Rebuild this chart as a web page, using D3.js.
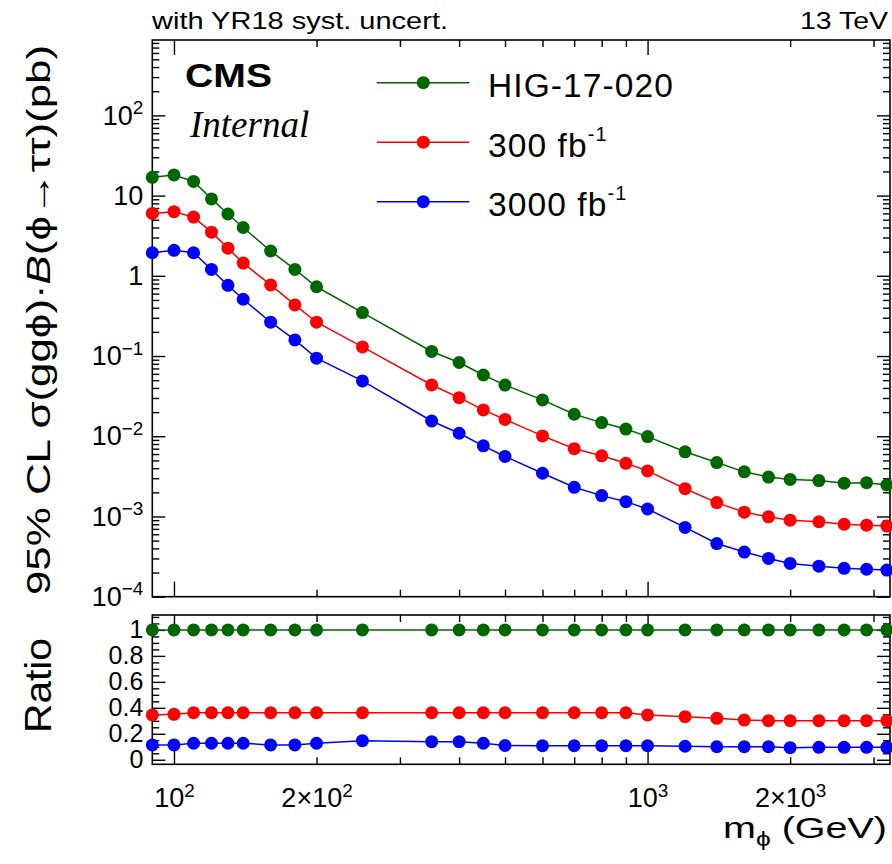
<!DOCTYPE html>
<html>
<head>
<meta charset="utf-8">
<script src="https://cdn.jsdelivr.net/npm/d3@7"></script>
<style>
  body { margin: 0; background: #fff; }
  svg { display: block; }
  text { font-family: "Liberation Sans", Arial, sans-serif; fill: #000; }
</style>
</head>
<body>
<svg id="chart"></svg>
<script>
// mass points (GeV)
const masses = [90, 100, 110, 120, 130, 140, 160, 180, 200, 250, 350, 400, 450, 500,
  600, 700, 800, 900, 1000, 1200, 1400, 1600, 1800, 2000, 2300, 2600, 2900, 3200];

// expected 95% CL limits (pb)
const hig17020 = [16.9, 18.1, 15.0, 9.1, 5.9, 4.0, 2.04, 1.2, 0.73, 0.348, 0.114, 0.083, 0.058, 0.0434,
  0.0284, 0.0188, 0.0148, 0.0123, 0.0099, 0.0064, 0.0047, 0.0036, 0.0031, 0.0029, 0.0028, 0.0026, 0.00264, 0.00247];
const lumi300 = [6.0, 6.3, 5.4, 3.5, 2.21, 1.44, 0.77, 0.434, 0.264, 0.13, 0.0436, 0.0303, 0.0213, 0.0162,
  0.0101, 0.0070, 0.0057, 0.0046, 0.0037, 0.00222, 0.00149, 0.00113, 0.00099, 0.0009, 0.00086, 0.0008, 0.00078, 0.00076];
const lumi3000 = [1.94, 2.08, 1.94, 1.2, 0.76, 0.51, 0.264, 0.159, 0.094, 0.049, 0.0155, 0.0109, 0.0076, 0.0056,
  0.00346, 0.00231, 0.00182, 0.00153, 0.00124, 0.00073, 0.00046, 0.00036, 0.0003, 0.00026, 0.00024, 0.000226, 0.00022, 0.000215];

// ratio to HIG-17-020
const ratioRef = [1, 1, 1, 1, 1, 1, 1, 1, 1, 1, 1, 1, 1, 1, 1, 1, 1, 1, 1, 1, 1, 1, 1, 1, 1, 1, 1, 1];
const ratio300 = [0.345, 0.35, 0.362, 0.362, 0.362, 0.362, 0.362, 0.362, 0.362, 0.362, 0.362, 0.362, 0.362, 0.362,
  0.362, 0.362, 0.362, 0.362, 0.345, 0.332, 0.319, 0.306, 0.301, 0.301, 0.301, 0.301, 0.301, 0.301];
const ratio3000 = [0.114, 0.114, 0.127, 0.127, 0.127, 0.127, 0.114, 0.114, 0.127, 0.147, 0.139, 0.139, 0.127, 0.11,
  0.108, 0.108, 0.108, 0.108, 0.108, 0.104, 0.1, 0.1, 0.1, 0.093, 0.096, 0.096, 0.096, 0.096];

const seriesNames = ['HIG-17-020', '300 fb', '3000 fb'];
const seriesSup = ['', '-1', '-1'];
const colors = ['#006600', '#ff0000', '#0000ff'];

const xMajor = [100, 1000];
const xMinor = [200, 300, 400, 500, 600, 700, 800, 900, 2000, 3000];
const xLabels = [[100, '10', '2'], [200, '2\u00d710', '2'], [1000, '10', '3'], [2000, '2\u00d710', '3']];
const yLabels = [[100, '10', '2'], [10, '10', ''], [1, '1', ''], [0.1, '10', '\u22121'],
  [0.01, '10', '\u22122'], [0.001, '10', '\u22123'], [0.0001, '10', '\u22124']];
const ratioMajor = [0, 0.2, 0.4, 0.6, 0.8, 1];
const ratioLabels = ['0', '0.2', '0.4', '0.6', '0.8', '1'];

const W = 892, H = 864;
const left = 152.3, right = 890;
const upTop = 40, upBottom = 596.7;
const loTop = 615, loBottom = 764.3;

const svg = d3.select('#chart').attr('width', W).attr('height', H);

const x = d3.scaleLog().domain([90, 3250]).range([left, right]);
const y = d3.scaleLog().domain([1e-4, 870]).range([upBottom, upTop]);
const yr = d3.scaleLinear().domain([-0.035, 1.115]).range([loBottom, loTop]);

// minor ticks for log y
const yMajor = yLabels.map((d) => d[0]);
const yMinor = [];
for (let e = -4; e <= 2; e++) {
  for (let k = 2; k <= 9; k++) {
    const v = k * Math.pow(10, e);
    if (v < 870) yMinor.push(v);
  }
}
const ratioMinor = d3.range(1, 23).map((i) => +(i * 0.05).toFixed(2))
  .filter((v) => ratioMajor.indexOf(v) < 0);

function tickGroup(axis, tx, ty) {
  const g = svg.append('g').attr('transform', 'translate(' + tx + ',' + ty + ')').call(axis);
  g.select('.domain').remove();
  g.selectAll('line').attr('stroke', '#000').attr('stroke-width', 1.4);
  return g;
}

// frames
[[upTop, upBottom], [loTop, loBottom]].forEach(([t, b]) => {
  svg.append('rect')
    .attr('x', left).attr('y', t)
    .attr('width', right - left).attr('height', b - t)
    .attr('fill', 'none').attr('stroke', '#000').attr('stroke-width', 1.6);
});

// x ticks, both panels, top and bottom
[[upTop, upBottom], [loTop, loBottom]].forEach(([t, b]) => {
  tickGroup(d3.axisBottom(x).tickValues(xMajor).tickSize(-15).tickFormat(''), 0, b);
  tickGroup(d3.axisBottom(x).tickValues(xMinor).tickSize(-7).tickFormat(''), 0, b);
  tickGroup(d3.axisTop(x).tickValues(xMajor).tickSize(-15).tickFormat(''), 0, t);
  tickGroup(d3.axisTop(x).tickValues(xMinor).tickSize(-7).tickFormat(''), 0, t);
});

// y ticks upper
tickGroup(d3.axisLeft(y).tickValues(yMajor).tickSize(-13).tickFormat(''), left, 0);
tickGroup(d3.axisLeft(y).tickValues(yMinor).tickSize(-7).tickFormat(''), left, 0);
tickGroup(d3.axisRight(y).tickValues(yMajor).tickSize(-13).tickFormat(''), right, 0);
tickGroup(d3.axisRight(y).tickValues(yMinor).tickSize(-7).tickFormat(''), right, 0);

// y ticks lower
tickGroup(d3.axisLeft(yr).tickValues(ratioMajor).tickSize(-13).tickFormat(''), left, 0);
tickGroup(d3.axisLeft(yr).tickValues(ratioMinor).tickSize(-7).tickFormat(''), left, 0);
tickGroup(d3.axisRight(yr).tickValues(ratioMajor).tickSize(-13).tickFormat(''), right, 0);
tickGroup(d3.axisRight(yr).tickValues(ratioMinor).tickSize(-7).tickFormat(''), right, 0);

function supText(sel, base, sup) {
  sel.text(null);
  sel.append('tspan').text(base);
  if (sup) sel.append('tspan').attr('dy', '-0.55em').attr('font-size', '0.7em').text(sup);
}

// y labels upper
const yl = svg.append('g').attr('transform', 'translate(' + left + ',0)')
  .call(d3.axisLeft(y).tickValues(yMajor).tickSize(0).tickPadding(9))
  .attr('font-size', 27).attr('font-family', null);
yl.select('.domain').remove();
yl.selectAll('.tick text').each(function (d) {
  const lab = yLabels.find((l) => l[0] === d);
  supText(d3.select(this), lab[1], lab[2]);
});

// ratio labels
const rl = svg.append('g').attr('transform', 'translate(' + left + ',0)')
  .call(d3.axisLeft(yr).tickValues(ratioMajor).tickSize(0).tickPadding(9)
    .tickFormat((d, i) => ratioLabels[i]))
  .attr('font-size', 25).attr('font-family', null);
rl.select('.domain').remove();

// x labels
const xl = svg.append('g').attr('transform', 'translate(0,' + loBottom + ')')
  .call(d3.axisBottom(x).tickValues(xLabels.map((l) => l[0])).tickSize(0).tickPadding(24))
  .attr('font-size', 27).attr('font-family', null);
xl.select('.domain').remove();
xl.selectAll('.tick text').each(function (d) {
  const lab = xLabels.find((l) => l[0] === d);
  supText(d3.select(this), lab[1], lab[2]);
});

// series, upper panel
const upperData = [hig17020, lumi300, lumi3000];
const ratioData = [ratioRef, ratio300, ratio3000];

upperData.forEach((vals, s) => {
  const line = d3.line().x((d, i) => x(masses[i])).y((d) => y(d));
  svg.append('path').datum(vals).attr('d', line)
    .attr('fill', 'none').attr('stroke', colors[s]).attr('stroke-width', 1.5);
});
upperData.forEach((vals, s) => {
  svg.append('g').selectAll('circle').data(vals).join('circle')
    .attr('cx', (d, i) => x(masses[i])).attr('cy', (d) => y(d))
    .attr('r', 6.5).attr('fill', colors[s]);
});

// series, ratio panel
ratioData.forEach((vals, s) => {
  const line = d3.line().x((d, i) => x(masses[i])).y((d) => yr(d));
  svg.append('path').datum(vals).attr('d', line)
    .attr('fill', 'none').attr('stroke', colors[s]).attr('stroke-width', 1.5);
  svg.append('g').selectAll('circle').data(vals).join('circle')
    .attr('cx', (d, i) => x(masses[i])).attr('cy', (d) => yr(d))
    .attr('r', 6.5).attr('fill', colors[s]);
});

// legend
const leg = svg.append('g');
seriesNames.forEach((name, s) => {
  const ly = 82.7 + s * 59.5;
  leg.append('line').attr('x1', 376.7).attr('x2', 469.3).attr('y1', ly).attr('y2', ly)
    .attr('stroke', colors[s]).attr('stroke-width', 1.5);
  leg.append('circle').attr('cx', 423.3).attr('cy', ly).attr('r', 6.5).attr('fill', colors[s]);
  const t = leg.append('text').attr('x', 488).attr('y', ly + 14.5)
    .attr('font-size', 33.5).attr('letter-spacing', 1.1);
  t.append('tspan').text(name);
  if (seriesSup[s]) t.append('tspan').attr('dy', -16).attr('font-size', 20).text(seriesSup[s]);
});

// CMS / Internal
svg.append('text').attr('x', 185).attr('y', 86.7).attr('font-size', 34)
  .attr('font-weight', 'bold').attr('textLength', 87).attr('lengthAdjust', 'spacingAndGlyphs')
  .text('CMS');
svg.append('text').attr('x', 190).attr('y', 136.5).attr('font-size', 37)
  .attr('font-style', 'italic').style('font-family', '"Liberation Serif", "Times New Roman", serif')
  .text('Internal');

// header
svg.append('text').attr('x', 152).attr('y', 29).attr('font-size', 24)
  .attr('textLength', 296).attr('lengthAdjust', 'spacingAndGlyphs')
  .text('with YR18 syst. uncert.');
svg.append('text').attr('x', 888).attr('y', 29).attr('font-size', 24)
  .attr('text-anchor', 'end').attr('textLength', 88).attr('lengthAdjust', 'spacingAndGlyphs')
  .text('13 TeV');

// axis titles
const yt = svg.append('text')
  .attr('transform', 'translate(50,320) rotate(-90)')
  .attr('text-anchor', 'middle').attr('font-size', 34)
  .attr('textLength', 550).attr('lengthAdjust', 'spacingAndGlyphs');
yt.append('tspan').text('95% CL \u03c3(gg\u03d5)\u00b7');
yt.append('tspan').attr('font-style', 'italic').text('B');
yt.append('tspan').text('(\u03d5\u2192\u03c4\u03c4)(pb)');

svg.append('text').attr('transform', 'translate(51,685.5) rotate(-90)')
  .attr('text-anchor', 'middle').attr('font-size', 36)
  .attr('textLength', 95).attr('lengthAdjust', 'spacingAndGlyphs')
  .text('Ratio');

const xt = svg.append('text').attr('x', 887).attr('y', 838)
  .attr('text-anchor', 'end').attr('font-size', 30)
  .attr('textLength', 164).attr('lengthAdjust', 'spacingAndGlyphs');
xt.append('tspan').text('m');
xt.append('tspan').attr('dy', 8).attr('font-size', 20).text('\u03d5');
xt.append('tspan').attr('dy', -8).text(' (GeV)');
</script>
</body>
</html>
